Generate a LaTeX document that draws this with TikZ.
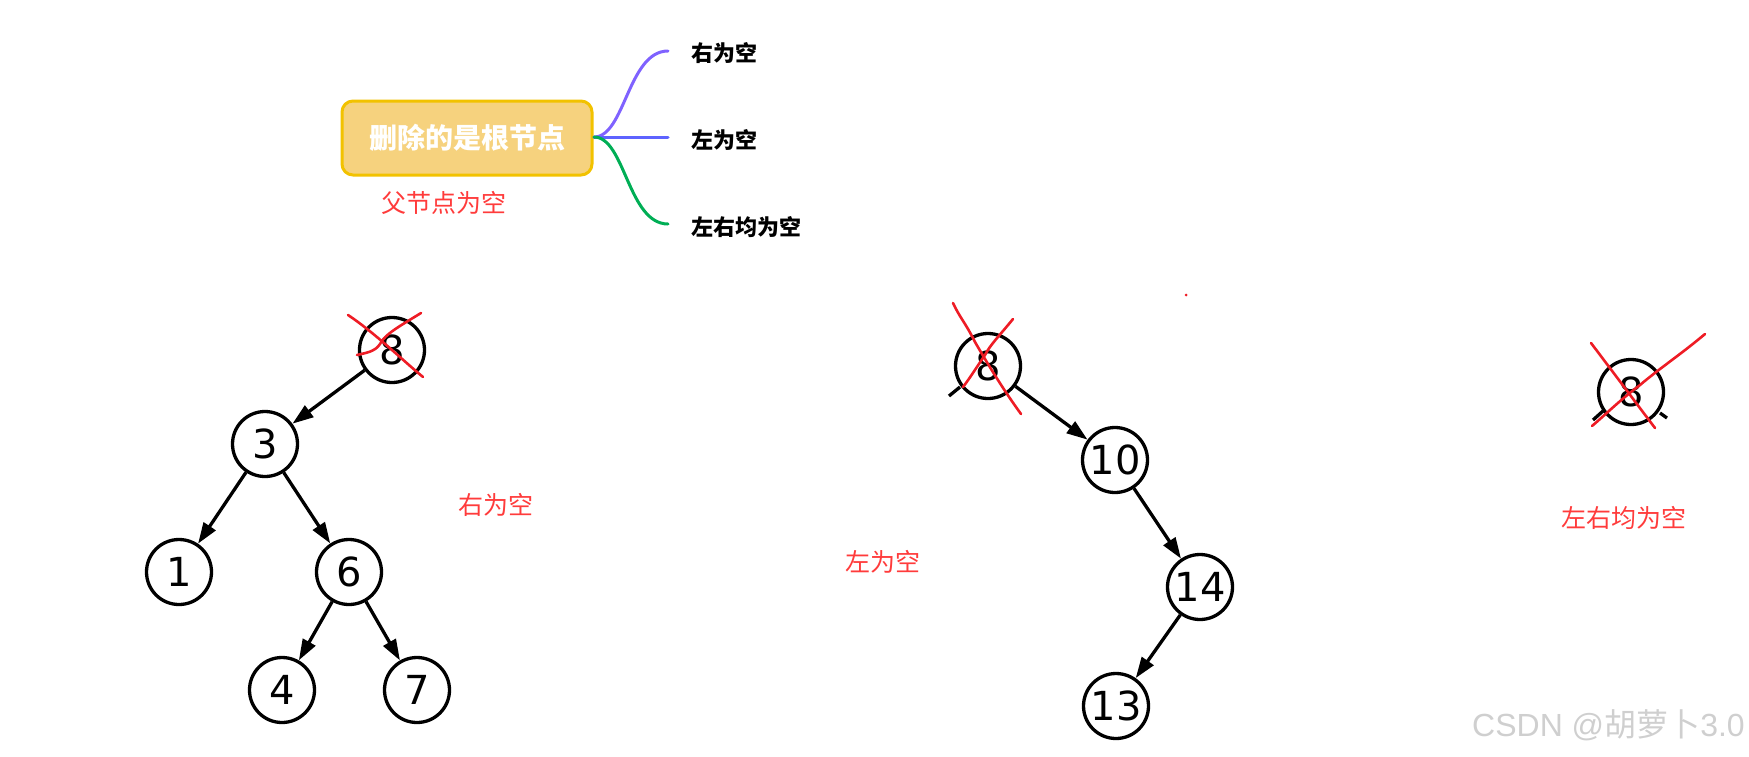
\documentclass[tikz,border=0pt]{standalone}
\usepackage{fontspec}
\setmainfont{DejaVu Sans}
\newfontfamily\cjk{Noto Sans CJK SC}
\newfontfamily\lib{Liberation Sans}
\usetikzlibrary{arrows.meta}
\definecolor{boxfill}{HTML}{F6D27E}
\definecolor{boxline}{HTML}{F2C200}
\definecolor{mmpurple}{HTML}{7F62FF}
\definecolor{mmblue}{HTML}{5E63FF}
\definecolor{mmgreen}{HTML}{00AE55}
\definecolor{mred}{HTML}{FF3B3B}
\definecolor{xred}{HTML}{EE1C25}
\definecolor{wmark}{HTML}{CFCFCF}
\begin{document}
\begin{tikzpicture}[x=1pt,y=-1pt,
  tnode/.style={circle,draw,line width=3.3pt,minimum size=65pt,inner sep=0pt,font=\fontsize{40}{40}\selectfont},
  tedge/.style={line width=3.3pt,-{Triangle[length=21pt,width=14pt]}},
  rootbox/.style={draw=boxline,fill=boxfill,line width=3pt,rounded corners=11pt,minimum width=250pt,minimum height=74pt,inner sep=0pt,text=white,font=\cjk\bfseries\fontsize{28}{28}\selectfont},
  branchlbl/.style={anchor=west,inner sep=0pt,font=\cjk\bfseries\fontsize{22}{22}\selectfont},
  redlbl/.style={inner sep=0pt,text=mred,font=\cjk\fontsize{25}{25}\selectfont},
  branch/.style={line width=3pt,line cap=round},
  cross/.style={draw=xred,line width=2.6pt,line cap=round},
  stub/.style={line width=3.3pt}
]
\useasboundingbox (0,0) rectangle (1749,756);

% mind map
\node[rootbox] (root) at (467,138) {删除的是根节点};
\coordinate (rs) at (594,137);
\coordinate (e1) at (668,51);
\coordinate (e2) at (668,137);
\coordinate (e3) at (668,224);
\draw[branch,mmpurple] (rs) .. controls (625,137) and (628,51) .. (e1);
\draw[branch,mmblue] (rs) -- (e2);
\draw[branch,mmgreen] (rs) .. controls (625,137) and (628,224) .. (e3);
\node[branchlbl] (l1) at (691,53) {右为空};
\node[branchlbl] (l2) at (691,140) {左为空};
\node[branchlbl] (l3) at (691,227) {左右均为空};
\node[redlbl] (p0) at (444,203) {父节点为空};

% tree 1
\node[tnode] (a8) at (392,350) {8};
\node[tnode] (a3) at (265,444) {3};
\node[tnode] (a1) at (179,572) {1};
\node[tnode] (a6) at (349,572) {6};
\node[tnode] (a4) at (282,690) {4};
\node[tnode] (a7) at (417,690) {7};
\draw[tedge] (a8) -- (a3);
\draw[tedge] (a3) -- (a1);
\draw[tedge] (a3) -- (a6);
\draw[tedge] (a6) -- (a4);
\draw[tedge] (a6) -- (a7);
\draw[cross] (348,315) .. controls (375,333) and (400,358) .. (423,377);
\draw[cross] (421,313) .. controls (400,326) and (385,334) .. (380,344) .. controls (375,352) and (365,353) .. (357,355);
\node[redlbl] (t1) at (496,505) {右为空};

% tree 2
\node[tnode] (b8) at (988,366) {8};
\node[tnode] (b10) at (1115,460) {10};
\node[tnode] (b14) at (1200,587) {14};
\node[tnode] (b13) at (1116,706) {13};
\draw[tedge] (b8) -- (b10);
\draw[tedge] (b10) -- (b14);
\draw[tedge] (b14) -- (b13);
\draw[stub] (949,396) -- (960,387);
\draw[cross] (953,303) .. controls (960,318) and (965,322) .. (975,342) .. controls (990,368) and (1005,392) .. (1021,414);
\draw[cross] (1013,319) .. controls (1000,335) and (990,345) .. (985,355) .. controls (978,365) and (970,378) .. (963,387);
\fill[xred] (1186,295) circle (1.5pt);
\node[redlbl] (t2) at (883,562) {左为空};

% tree 3
\node[tnode] (c8) at (1631,392) {8};
\draw[stub] (1593,420) -- (1603,411);
\draw[stub] (1660,413) -- (1667,418);
\draw[cross] (1591,343) .. controls (1610,368) and (1630,395) .. (1655,428);
\draw[cross] (1705,334) .. controls (1680,355) and (1660,368) .. (1640,385) .. controls (1620,400) and (1605,415) .. (1592,426);
\node[redlbl] (t3) at (1624,518) {左右均为空};

% watermark
\node[inner sep=0pt,anchor=west,text=wmark] (wm) at (1472,725) {\lib\fontsize{32}{32}\selectfont CSDN @{\cjk 胡萝卜}3.0};
\end{tikzpicture}
\end{document}
